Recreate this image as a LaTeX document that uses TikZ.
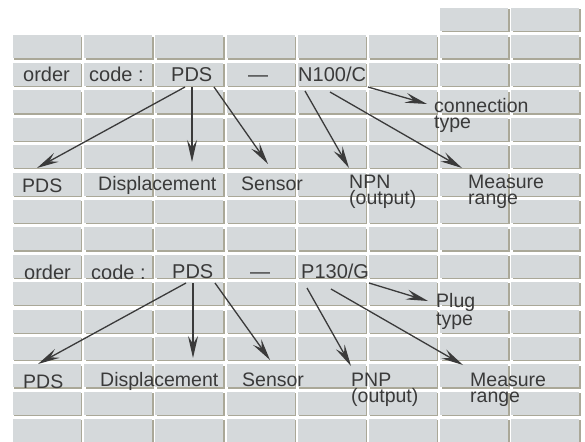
\documentclass[tikz,border=0pt]{standalone}
\usepackage{fontspec}
\setmainfont{Liberation Sans}
\usetikzlibrary{arrows.meta}
\definecolor{cellgrey}{RGB}{213,217,219}
\definecolor{cellshade}{RGB}{170,168,152}
\definecolor{inkgrey}{RGB}{58,58,58}
\tikzset{
  codetext/.style={anchor=base west, inner sep=0pt, text=inkgrey, font=\fontsize{20}{20}\selectfont},
  labeltext/.style={anchor=base west, inner sep=0pt, text=inkgrey, align=left, font=\fontsize{19.5}{16.5}\selectfont},
  pointer/.style={draw=inkgrey, line width=1.3pt, -{Stealth[length=22pt,width=10pt,inset=8pt]}}
}
\begin{document}
\begin{tikzpicture}[x=1pt,y=-1pt]
\useasboundingbox[fill=white] (0,0) rectangle (585,441);
% grid of cells
\foreach \c in {0,...,7}
  \foreach \r in {0,...,14} {
    \fill[cellshade] (14.3+71.2*\c,36.8+27.4*\r) rectangle ++(68,23);
    \fill[cellgrey] (13+71.2*\c,35.5+27.4*\r) rectangle ++(68,23);
  }
\foreach \c in {6,7} {
  \fill[cellshade] (14.3+71.2*\c,9.4) rectangle ++(68,23);
  \fill[cellgrey] (13+71.2*\c,8.1) rectangle ++(68,23);
}
% first code
\node[codetext] (orderA) at (23,82) {order};
\node[codetext] (codeA) at (89,82) {code :};
\node[codetext] (pdsA) at (171,82) {PDS};
\node[codetext, anchor=base] (dashA) at (258,82) {—};
\node[codetext] (suffixA) at (298,82) {N100/C};
\node[labeltext] (lpdsA) at (22,192) {PDS};
\node[labeltext] (ldispA) at (98,190) {Displacement};
\node[labeltext] (lsensA) at (241,190) {Sensor};
\node[labeltext] (lnpn) at (349,204.5) {NPN\\(output)};
\node[labeltext] (lrangeA) at (468,204.5) {Measure\\range};
\node[labeltext] (lconn) at (434,128.5) {connection\\type};
\draw[pointer] ([shift={(14,5)}]pdsA.base west) -- ([shift={(15,-24)}]lpdsA.base west);
\draw[pointer] ([shift={(21,5)}]pdsA.base west) -- ([shift={(94,-28)}]ldispA.base west);
\draw[pointer] ([shift={(43,5)}]pdsA.base west) -- ([shift={(27,-26)}]lsensA.base west);
\draw[pointer] ([shift={(70,5)}]suffixA.base west) -- ([shift={(-7,-24.5)}]lconn.base west);
\draw[pointer] ([shift={(7,9)}]suffixA.base west) -- ([shift={(0,-36.5)}]lnpn.base west);
\draw[pointer] ([shift={(32,10)}]suffixA.base west) -- ([shift={(-6,-36.5)}]lrangeA.base west);
% second code
\node[codetext] (orderB) at (24,279) {order};
\node[codetext] (codeB) at (91,279) {code :};
\node[codetext] (pdsB) at (172,278) {PDS};
\node[codetext, anchor=base] (dashB) at (260,278) {—};
\node[codetext] (suffixB) at (301,278) {P130/G};
\node[labeltext] (lpdsB) at (23,388) {PDS};
\node[labeltext] (ldispB) at (100,386) {Displacement};
\node[labeltext] (lsensB) at (242,386) {Sensor};
\node[labeltext] (lpnp) at (351,402.5) {PNP\\(output)};
\node[labeltext] (lrangeB) at (470,402.5) {Measure\\range};
\node[labeltext] (lplug) at (436,325.5) {Plug\\type};
\draw[pointer] ([shift={(14,5)}]pdsB.base west) -- ([shift={(15,-24)}]lpdsB.base west);
\draw[pointer] ([shift={(21,5)}]pdsB.base west) -- ([shift={(93,-28)}]ldispB.base west);
\draw[pointer] ([shift={(43,5)}]pdsB.base west) -- ([shift={(28,-26)}]lsensB.base west);
\draw[pointer] ([shift={(68,5)}]suffixB.base west) -- ([shift={(-8,-24.5)}]lplug.base west);
\draw[pointer] ([shift={(6,10)}]suffixB.base west) -- ([shift={(0,-36.5)}]lpnp.base west);
\draw[pointer] ([shift={(30,11)}]suffixB.base west) -- ([shift={(-7,-37.5)}]lrangeB.base west);
\end{tikzpicture}
\end{document}
